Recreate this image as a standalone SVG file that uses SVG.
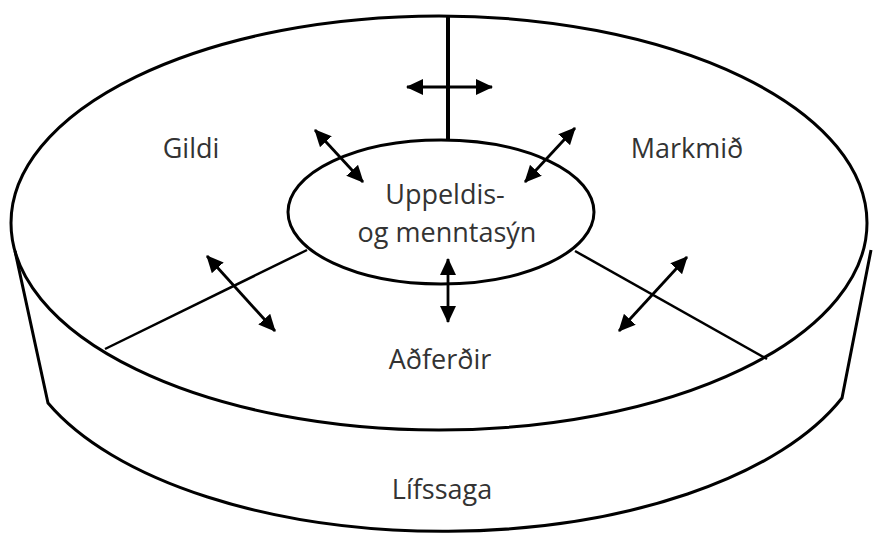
<svg xmlns="http://www.w3.org/2000/svg" width="874" height="538" viewBox="0 0 874 538">
<defs>
<style>
.ln{fill:none;stroke:#000;stroke-width:3}
.sp{fill:none;stroke:#000;stroke-width:2.5}
.ar{fill:none;stroke:#000;stroke-width:2.8;marker-start:url(#ah);marker-end:url(#ah)}
.t{font-family:"Open Sans","Liberation Sans",sans-serif;font-size:27px;fill:#333;text-anchor:middle}
</style>
<marker id="ah" markerUnits="userSpaceOnUse" markerWidth="17" markerHeight="16" refX="16" refY="8" orient="auto-start-reverse" viewBox="0 0 17 16">
<path d="M0,0 L17,8 L0,16 Z" fill="#000"/>
</marker>
</defs>
<rect width="874" height="538" fill="#fff"/>
<g id="lifssaga">
<path class="ln" d="M15,251 L48,403 A427 207 0 0 0 842,398 L871,250"/>
<text class="t" x="442" y="499">Lífssaga</text>
</g>
<g id="disk">
<ellipse class="ln" cx="439" cy="223" rx="428" ry="207"/>
</g>
<g id="connectors">
<line x1="448" y1="16" x2="448" y2="140" stroke="#000" stroke-width="4"/>
<line class="sp" x1="307" y1="250" x2="105" y2="349"/>
<line class="sp" x1="575" y1="251" x2="767" y2="359"/>
<line class="ar" x1="407" y1="87" x2="492" y2="87"/>
<line class="ar" x1="315" y1="130" x2="363" y2="182"/>
<line class="ar" x1="525" y1="182" x2="575" y2="128"/>
<line class="ar" x1="448" y1="259" x2="448" y2="322"/>
<line class="ar" x1="207" y1="256" x2="275" y2="331"/>
<line class="ar" x1="619" y1="331" x2="687" y2="257"/>
</g>
<g id="center">
<ellipse class="ln" cx="441" cy="212" rx="153" ry="72" fill="#fff"/>
<text class="t" x="445" y="204">Uppeldis-</text>
<text class="t" x="447" y="242">og menntasýn</text>
</g>
<g id="gildi"><text class="t" x="191" y="158">Gildi</text></g>
<g id="markmid"><text class="t" x="687" y="158">Markmið</text></g>
<g id="adferdir"><text class="t" x="440" y="369">Aðferðir</text></g>
</svg>
